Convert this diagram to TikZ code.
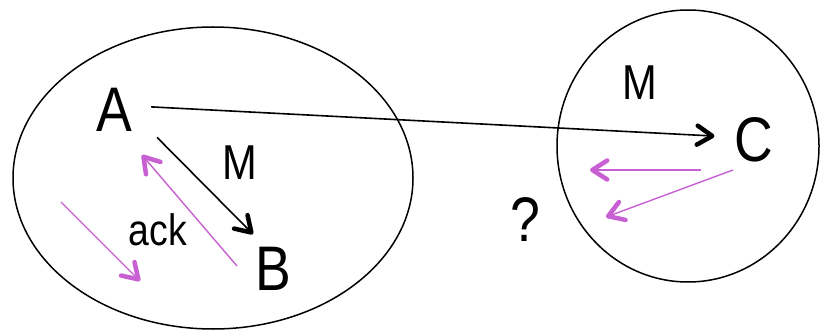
\documentclass[tikz,border=0pt]{standalone}
\usepackage{fontspec}
\setmainfont[FakeStretch=0.85]{Liberation Sans}
\usepackage{xcolor}
\usetikzlibrary{arrows.meta,calc,positioning}
\definecolor{ackpink}{RGB}{200,95,210}

\begin{document}
\begin{tikzpicture}[x=1pt, y=-1pt,
  big/.style={inner sep=2pt, font=\fontsize{63}{63}\selectfont},
  small/.style={inner sep=2pt, font=\fontsize{49}{49}\selectfont},
  msg/.style={line width=1.6pt, -{Straight Barb[length=15pt,width=19pt,line width=4.5pt,round]}},
  ackmsg/.style={msg, ackpink, line width=1.4pt}]
  \useasboundingbox (0,0) rectangle (821,331);
  \draw [line width=1.5pt] (213,178) ellipse [x radius=200pt, y radius=151pt];
  \draw [line width=1.5pt] (688,146) ellipse [x radius=131pt, y radius=136pt];
  \node [big] at (114,110) (A) {A};
  \node [big] at (273,269) (B) {B};
  \node [big] at (754,140) (C) {C};
  \node [big] at (525,220) (Q) {?};
  \node [small] at (240,163) (M1) {M};
  \node [small] at (640,83) (M2) {M};
  \node [inner sep=2pt, font=\fontsize{44}{44}\selectfont] at (158,230) (K) {ack};
  \draw [msg, shorten <=17pt, shorten >=18pt] ([yshift=4pt] A.east) to ([yshift=3pt] C.west);
  \draw [msg] ([xshift=23pt, yshift=-3.5pt] A.south east) to ([yshift=11pt] B.north west);
  \coordinate (k1) at (237,266);
  \coordinate (k2) at (142,155);
  \coordinate (l1) at (61,202);
  \coordinate (l2) at (140,281);
  \coordinate (r1) at (701,170);
  \coordinate (r2) at (590,170);
  \coordinate (s1) at (733,170);
  \coordinate (s2) at (606,217);
  \draw [ackmsg] (k1) to (k2);
  \draw [ackmsg] (l1) to (l2);
  \draw [ackmsg] (r1) to (r2);
  \draw [ackmsg] (s1) to (s2);
\end{tikzpicture}
\end{document}
